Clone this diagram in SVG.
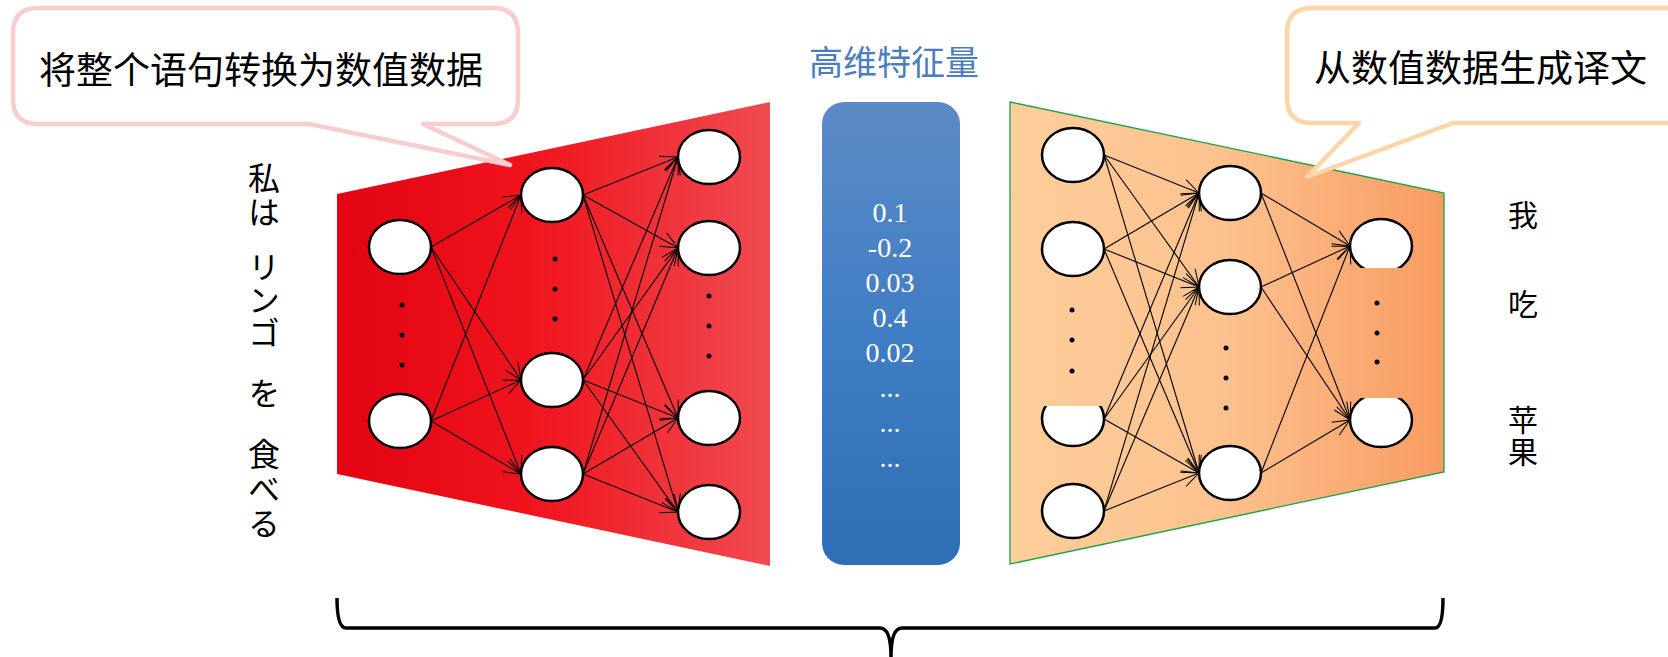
<svg xmlns="http://www.w3.org/2000/svg" width="1668" height="657" viewBox="0 0 1668 657">
<style>
.nn{fill:#fff;stroke:#000;stroke-width:2.5}
.dot{fill:#000}
.edge{stroke:#000;stroke-width:1.1;fill:none;marker-end:url(#ah)}
.cjk{font-family:"Noto Sans CJK SC","Noto Sans CJK JP",sans-serif;fill:#000}
.jp{font-family:"Noto Sans CJK JP","Noto Sans CJK SC",sans-serif;font-size:32px;fill:#000;writing-mode:vertical-rl}
.zh{font-family:"Noto Sans CJK SC",sans-serif;font-size:30px;fill:#000}
.zhv{font-family:"Noto Sans CJK SC",sans-serif;font-size:30px;fill:#000;writing-mode:vertical-rl}
.num{font-family:"Liberation Serif","Times New Roman",serif;font-size:28px;fill:#fff;text-anchor:middle}
.callout{fill:#fff;stroke-width:4.5;stroke-linejoin:round}
</style>
<defs>
<linearGradient id="gRed" x1="337" y1="0" x2="770" y2="0" gradientUnits="userSpaceOnUse">
<stop offset="0" stop-color="#E20412"/><stop offset="0.45" stop-color="#F0141D"/><stop offset="1" stop-color="#F04B51"/>
</linearGradient>
<linearGradient id="gOrange" x1="1010" y1="0" x2="1444" y2="0" gradientUnits="userSpaceOnUse">
<stop offset="0" stop-color="#FDCE9B"/><stop offset="0.5" stop-color="#FCC18E"/><stop offset="1" stop-color="#F99B62"/>
</linearGradient>
<linearGradient id="gBlue" x1="0" y1="102" x2="0" y2="565" gradientUnits="userSpaceOnUse">
<stop offset="0" stop-color="#5C8BC7"/><stop offset="0.5" stop-color="#3F7DC4"/><stop offset="1" stop-color="#2F6DB4"/>
</linearGradient>
<marker id="ah" viewBox="-20 -10 22 20" refX="0" refY="0" markerWidth="22" markerHeight="20" markerUnits="userSpaceOnUse" orient="auto">
<path d="M-17,-7.5 L0,0 L-17,7.5" fill="none" stroke="#000" stroke-width="1"/>
</marker>
<clipPath id="clipA3"><rect x="1030" y="406" width="90" height="60"/></clipPath>
<clipPath id="clipC1"><rect x="1340" y="200" width="90" height="68"/></clipPath>
<clipPath id="clipC2"><rect x="1340" y="398" width="90" height="60"/></clipPath>
</defs>

<g id="encoder-panel"><polygon points="337,194 770,102 770,566 337,474" fill="url(#gRed)"/></g>
<g id="decoder-panel"><polygon points="1010,102 1444,193 1444,472 1010,564" fill="url(#gOrange)" stroke="#1AA34A" stroke-width="1.3"/></g>

<g id="feature-vector">
<rect x="822" y="102" width="138" height="463" rx="22" ry="22" fill="url(#gBlue)"/>
<text class="num" x="890" y="222">0.1</text>
<text class="num" x="890" y="257">-0.2</text>
<text class="num" x="890" y="292">0.03</text>
<text class="num" x="890" y="327">0.4</text>
<text class="num" x="890" y="362">0.02</text>
<text class="num" x="890" y="397">...</text>
<text class="num" x="890" y="432">...</text>
<text class="num" x="890" y="467">...</text>
</g>
<g id="feature-title"><text x="894" y="60" font-family="Noto Sans CJK SC, sans-serif" font-size="34" fill="#4A7EC0" text-anchor="middle" dominant-baseline="central">高维特征量</text></g>

<g id="connectors">
<line class="edge" x1="431" y1="247" x2="521" y2="195"/>
<line class="edge" x1="431" y1="247" x2="521" y2="380"/>
<line class="edge" x1="431" y1="247" x2="521" y2="474"/>
<line class="edge" x1="431" y1="421" x2="521" y2="195"/>
<line class="edge" x1="431" y1="421" x2="521" y2="380"/>
<line class="edge" x1="431" y1="421" x2="521" y2="474"/>
<line class="edge" x1="583" y1="195" x2="678" y2="157"/>
<line class="edge" x1="583" y1="195" x2="678" y2="248"/>
<line class="edge" x1="583" y1="195" x2="678" y2="418"/>
<line class="edge" x1="583" y1="195" x2="678" y2="512"/>
<line class="edge" x1="583" y1="380" x2="678" y2="157"/>
<line class="edge" x1="583" y1="380" x2="678" y2="248"/>
<line class="edge" x1="583" y1="380" x2="678" y2="418"/>
<line class="edge" x1="583" y1="380" x2="678" y2="512"/>
<line class="edge" x1="583" y1="474" x2="678" y2="157"/>
<line class="edge" x1="583" y1="474" x2="678" y2="248"/>
<line class="edge" x1="583" y1="474" x2="678" y2="418"/>
<line class="edge" x1="583" y1="474" x2="678" y2="512"/>
<line class="edge" x1="1104" y1="155" x2="1199" y2="193"/>
<line class="edge" x1="1104" y1="155" x2="1199" y2="287"/>
<line class="edge" x1="1104" y1="155" x2="1199" y2="473"/>
<line class="edge" x1="1104" y1="249" x2="1199" y2="193"/>
<line class="edge" x1="1104" y1="249" x2="1199" y2="287"/>
<line class="edge" x1="1104" y1="249" x2="1199" y2="473"/>
<line class="edge" x1="1104" y1="419" x2="1199" y2="193"/>
<line class="edge" x1="1104" y1="419" x2="1199" y2="287"/>
<line class="edge" x1="1104" y1="419" x2="1199" y2="473"/>
<line class="edge" x1="1104" y1="511" x2="1199" y2="193"/>
<line class="edge" x1="1104" y1="511" x2="1199" y2="287"/>
<line class="edge" x1="1104" y1="511" x2="1199" y2="473"/>
<line class="edge" x1="1261" y1="193" x2="1350" y2="246"/>
<line class="edge" x1="1261" y1="193" x2="1350" y2="420"/>
<line class="edge" x1="1261" y1="287" x2="1350" y2="246"/>
<line class="edge" x1="1261" y1="287" x2="1350" y2="420"/>
<line class="edge" x1="1261" y1="473" x2="1350" y2="246"/>
<line class="edge" x1="1261" y1="473" x2="1350" y2="420"/>
</g>

<g id="enc-l1-n1"><ellipse class="nn" cx="400" cy="247" rx="31" ry="27"/></g>
<g id="enc-l1-n2"><ellipse class="nn" cx="400" cy="421" rx="31" ry="27"/></g>
<g id="enc-l1-dots"><circle class="dot" cx="402" cy="305" r="2.5"/><circle class="dot" cx="402" cy="335" r="2.5"/><circle class="dot" cx="402" cy="365" r="2.5"/></g>
<g id="enc-l2-n1"><ellipse class="nn" cx="552" cy="195" rx="31" ry="27"/></g>
<g id="enc-l2-n2"><ellipse class="nn" cx="552" cy="380" rx="31" ry="27"/></g>
<g id="enc-l2-n3"><ellipse class="nn" cx="552" cy="474" rx="31" ry="27"/></g>
<g id="enc-l2-dots"><circle class="dot" cx="555" cy="259" r="2.5"/><circle class="dot" cx="555" cy="289" r="2.5"/><circle class="dot" cx="555" cy="319" r="2.5"/></g>
<g id="enc-l3-n1"><ellipse class="nn" cx="709" cy="157" rx="31" ry="27"/></g>
<g id="enc-l3-n2"><ellipse class="nn" cx="709" cy="248" rx="31" ry="27"/></g>
<g id="enc-l3-n3"><ellipse class="nn" cx="709" cy="418" rx="31" ry="27"/></g>
<g id="enc-l3-n4"><ellipse class="nn" cx="709" cy="512" rx="31" ry="27"/></g>
<g id="enc-l3-dots"><circle class="dot" cx="709" cy="296" r="2.5"/><circle class="dot" cx="709" cy="326" r="2.5"/><circle class="dot" cx="709" cy="356" r="2.5"/></g>

<g id="dec-a-n1"><ellipse class="nn" cx="1073" cy="155" rx="31" ry="27"/></g>
<g id="dec-a-n2"><ellipse class="nn" cx="1073" cy="249" rx="31" ry="27"/></g>
<g id="dec-a-n3"><ellipse class="nn" cx="1073" cy="419" rx="31" ry="27" clip-path="url(#clipA3)"/></g>
<g id="dec-a-n4"><ellipse class="nn" cx="1073" cy="511" rx="31" ry="27"/></g>
<g id="dec-a-dots"><circle class="dot" cx="1072" cy="310" r="2.5"/><circle class="dot" cx="1072" cy="340" r="2.5"/><circle class="dot" cx="1072" cy="371" r="2.5"/></g>
<g id="dec-b-n1"><ellipse class="nn" cx="1230" cy="193" rx="31" ry="27"/></g>
<g id="dec-b-n2"><ellipse class="nn" cx="1230" cy="287" rx="31" ry="27"/></g>
<g id="dec-b-n3"><ellipse class="nn" cx="1230" cy="473" rx="31" ry="27"/></g>
<g id="dec-b-dots"><circle class="dot" cx="1226" cy="348" r="2.5"/><circle class="dot" cx="1226" cy="378" r="2.5"/><circle class="dot" cx="1226" cy="408" r="2.5"/></g>
<g id="dec-c-n1"><ellipse class="nn" cx="1381" cy="246" rx="31" ry="27" clip-path="url(#clipC1)"/></g>
<g id="dec-c-n2"><ellipse class="nn" cx="1381" cy="420" rx="31" ry="27" clip-path="url(#clipC2)"/></g>
<g id="dec-c-dots"><circle class="dot" cx="1377" cy="303" r="2.5"/><circle class="dot" cx="1377" cy="333" r="2.5"/><circle class="dot" cx="1377" cy="362" r="2.5"/></g>

<g id="callout-left">
<path class="callout" stroke="#F9CDCD" d="M38,8 H493 Q518,8 518,33 V99 Q518,124 493,124 H423 L510,165 L309,124 H38 Q13,124 13,99 V33 Q13,8 38,8 Z"/>
<text class="cjk" x="39" y="68" font-size="37" dominant-baseline="central">将整个语句转换为数值数据</text>
</g>
<g id="callout-right">
<path class="callout" stroke="#FDD5A7" d="M1312,8 H1700 V123 H1453 L1307,177 L1359,123 H1312 Q1287,123 1287,98 V33 Q1287,8 1312,8 Z"/>
<text class="cjk" x="1314" y="66" font-size="37" dominant-baseline="central">从数值数据生成译文</text>
</g>

<g id="source-sentence">
<text class="jp" x="264" y="162" letter-spacing="2">私は</text>
<text class="jp" x="264" y="251" letter-spacing="1">リンゴ</text>
<text class="jp" x="264" y="377">を</text>
<text class="jp" x="264" y="438" letter-spacing="2.5">食べる</text>
</g>
<g id="target-sentence">
<text class="zh" x="1523" y="213" text-anchor="middle" dominant-baseline="central">我</text>
<text class="zh" x="1523" y="302" text-anchor="middle" dominant-baseline="central">吃</text>
<text class="zhv" x="1523" y="405" letter-spacing="2">苹果</text>
</g>

<g id="brace"><path d="M337,598 Q337,628 346,628 H880 Q891,628 891,657 Q891,628 902,628 H1435 Q1443,628 1443,598" fill="none" stroke="#000" stroke-width="3.5"/></g>
</svg>
